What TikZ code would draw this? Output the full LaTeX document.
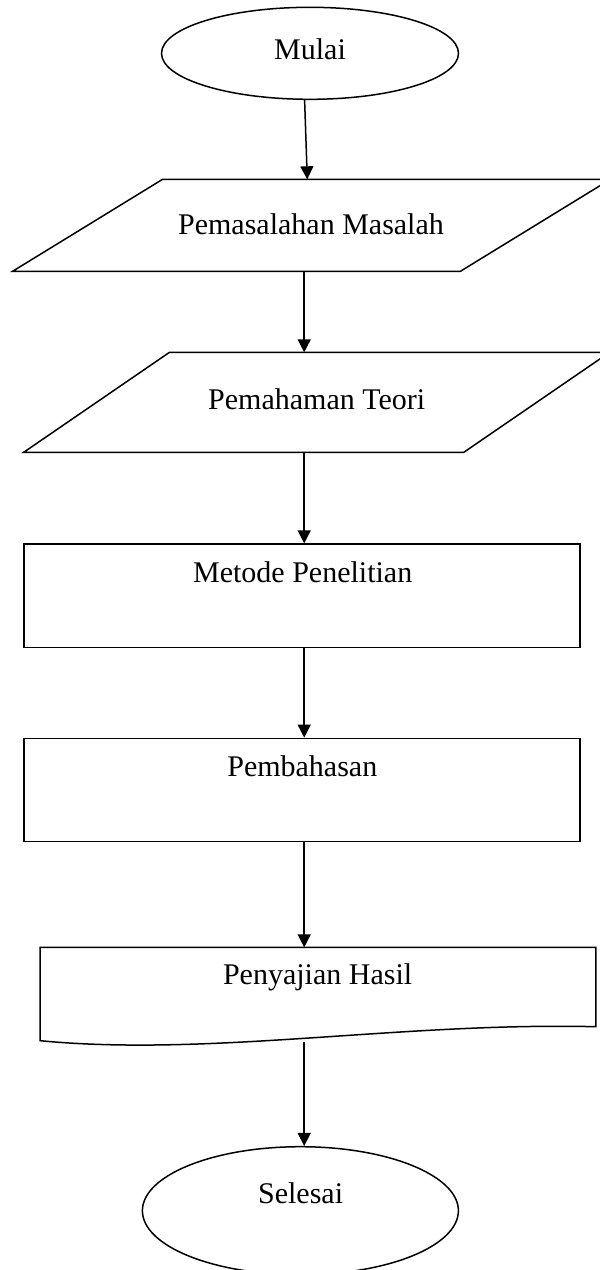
\documentclass[tikz,border=0pt]{standalone}
\usepackage{fontspec}
\setmainfont{Liberation Serif}
\usetikzlibrary{shapes.geometric,arrows.meta}
\begin{document}
\begin{tikzpicture}[x=1pt,y=-1pt,line width=1.5pt,
  txt/.style={font=\fontsize{30}{35}\selectfont,inner sep=0pt,anchor=base},
  term/.style={draw,ellipse,inner sep=0pt},
  procbox/.style={draw,rectangle,inner sep=0pt,minimum width=555.7pt,minimum height=103.3pt},
  arr/.style={-{Triangle[length=13pt,width=13pt]},line width=1.5pt}]
\useasboundingbox (0,0) rectangle (600,1270);
\clip (0,0) rectangle (600,1270);
% start
\node[term,minimum width=297pt,minimum height=92pt] (mulai) at (310,53.3) {};
\node[txt] (mulaiT) at (310,59) {Mulai};
% parallelogram 1
\draw (12.6,271.3) -- (162.6,179.3) -- (610.4,179.3) -- (460.4,271.3) -- cycle;
\node[txt] (p1T) at (311,234) {Pemasalahan Masalah};
\coordinate (p1n) at (307.3,179.3);
\coordinate (p1s) at (304.2,271.3);
% parallelogram 2
\draw (23.7,452.3) -- (169.5,352.3) -- (609.6,352.3) -- (463.8,452.3) -- cycle;
\node[txt] (p2T) at (316.7,409) {Pemahaman Teori};
\coordinate (p2n) at (304.2,352.3);
\coordinate (p2s) at (304.2,452.3);
% process boxes
\node[procbox] (r1) at (302,595.7) {};
\node[txt] (r1T) at (302.7,582.3) {Metode Penelitian};
\node[procbox] (r2) at (302,790) {};
\node[txt] (r2T) at (302.3,776) {Pembahasan};
% document
\draw (40.2,947.3) -- (595.9,947.3) -- (595.9,1026.7)
  .. controls (400,1022) and (210,1057) .. (40.2,1040.7) -- cycle;
\node[txt] (dT) at (317.6,984) {Penyajian Hasil};
\coordinate (dn) at (304.2,947.3);
\coordinate (ds) at (304.2,1042);
% end
\node[term,minimum width=316pt,minimum height=128pt] (sel) at (300.4,1210.7) {};
\node[txt] (selT) at (300.6,1203.3) {Selesai};
% connectors
\draw[arr] ([xshift=-5.4pt]mulai.south) -- (p1n);
\draw[arr] (p1s) -- (p2n);
\draw[arr] (p2s) -- (p2s |- r1.north);
\draw[arr] (p2s |- r1.south) -- (p2s |- r2.north);
\draw[arr] (p2s |- r2.south) -- (dn);
\draw[arr] (ds) -- (ds |- sel.north);
\end{tikzpicture}
\end{document}
